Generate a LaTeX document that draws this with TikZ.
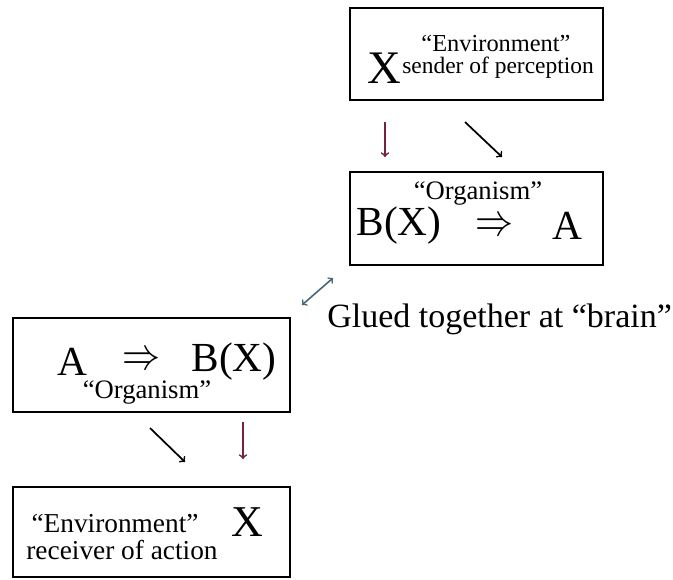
\documentclass[tikz,border=0pt]{standalone}
\usepackage{amsmath}
\usepackage{amssymb}
\usepackage{graphicx}
\usepackage{fontspec}
\setmainfont{Liberation Serif}
\usepackage{tikz}
\definecolor{perceptred}{RGB}{115,35,60}
\definecolor{gluegray}{RGB}{70,105,120}
\newcommand{\bigimpl}{\resizebox{28.5pt}{12.5pt}{$\Rightarrow$}}

\begin{document}
\begin{tikzpicture}[x=0.75pt,y=-0.75pt,
                frame/.style={draw,line width=2.2pt,inner sep=0pt},
                big/.style={font=\fontsize{31}{31}\selectfont,inner sep=0pt},
                small/.style={font=\fontsize{19}{21}\selectfont,inner sep=0pt}]
                \useasboundingbox (0,0) rectangle (673,579);
                % top: environment sends
                \draw [frame] (350,8) rectangle (603,100);
                \node [small,font=\fontsize{18.3}{20}\selectfont] (envtop) at (496,43) {``Environment''};
                \node [big,font=\fontsize{35}{35}\selectfont] (xtop) at (384,68) {X};
                \node [small,font=\fontsize{17.6}{20}\selectfont,anchor=west] (sender) at (402,68) {sender of perception};
                \coordinate (r1s) at (385,122); \coordinate (r1e) at (385,157);
                \coordinate (b1s) at (465,122); \coordinate (b1e) at (502,157);
                \draw [->,perceptred,line width=1.3pt] (r1s) -- (r1e);
                \draw [->,line width=1.3pt] (b1s) -- (b1e);
                % organism, perceiving
                \draw [frame] (350,172) rectangle (603,265);
                \node [small,font=\fontsize{20}{22}\selectfont] (orgtop) at (478,193) {``Organism''};
                \node [big] (bxtop) at (399,226) {B(X)};
                \node [inner sep=0pt] (impltop) at (494,227) {\bigimpl};
                \node [big] (atop) at (567,226) {A};
                % glue
                \coordinate (g1) at (302,305); \coordinate (g2) at (333,278);
                \draw [<->,gluegray,line width=1.2pt] (g1) -- (g2);
                \node [anchor=base west,inner sep=0pt,font=\fontsize{25.5}{25.5}\selectfont] (glued) at (327,327) {Glued together at ``brain''};
                % organism, acting
                \draw [frame] (13,318) rectangle (290,412);
                \node [big] (abot) at (72,362) {A};
                \node [inner sep=0pt] (implbot) at (141,361) {\bigimpl};
                \node [big] (bxbot) at (234,362) {B(X)};
                \node [small,font=\fontsize{20}{22}\selectfont] (orgbot) at (147,392) {``Organism''};
                \coordinate (b2s) at (150,428); \coordinate (b2e) at (185,462);
                \coordinate (r2s) at (243,422); \coordinate (r2e) at (243,459);
                \draw [->,line width=1.3pt] (b2s) -- (b2e);
                \draw [->,perceptred,line width=1.3pt] (r2s) -- (r2e);
                % bottom: environment receives
                \draw [frame] (13,487) rectangle (290,577);
                \node [small,font=\fontsize{20.5}{22}\selectfont] (envbot) at (115,524) {``Environment''};
                \node [big,font=\fontsize{33}{33}\selectfont] (xbot) at (247,522) {X};
                \node [small,font=\fontsize{20.5}{22}\selectfont] (receiver) at (122,550) {receiver of action};
            \end{tikzpicture}
\end{document}
